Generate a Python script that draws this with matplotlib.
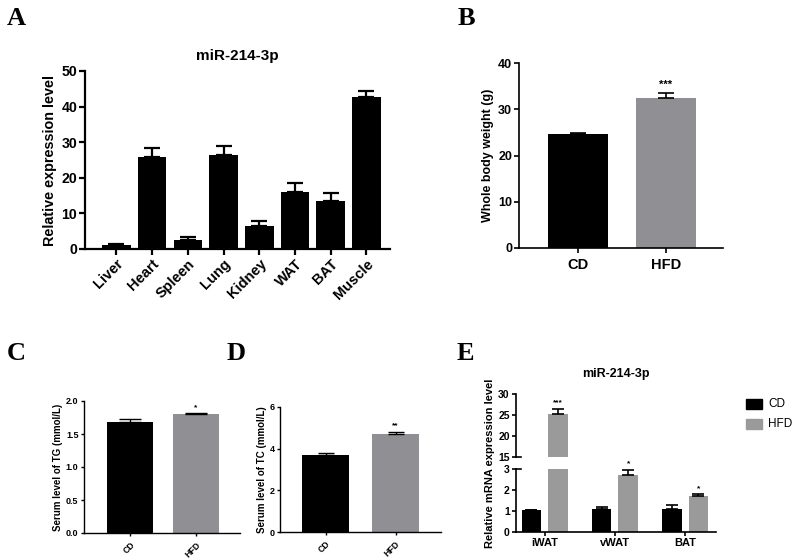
import matplotlib
matplotlib.use("Agg")
import matplotlib.pyplot as plt
import numpy as np
from matplotlib.patches import Rectangle

plt.rcParams['font.family'] = ['Liberation Sans', 'DejaVu Sans']

# ---------------- data ----------------
tissues_a = ["Liver", "Heart", "Spleen", "Lung", "Kidney", "WAT", "BAT", "Muscle"]
expr_a = [1.2, 25.9, 2.6, 26.4, 6.6, 16.0, 13.5, 42.6]
err_a = [0.15, 2.6, 0.8, 2.5, 1.3, 2.6, 2.2, 1.8]

groups = ["CD", "HFD"]
weight_b = [24.6, 32.4]
weight_err_b = [0.35, 1.1]
sig_b = "***"

tg_c = [1.68, 1.80]
tg_err_c = [0.05, 0.02]
sig_c = "*"

tc_d = [3.68, 4.69]
tc_err_d = [0.13, 0.13]
sig_d = "**"

tissues_e = ["iWAT", "vWAT", "BAT"]
cd_e = [1.05, 1.08, 1.10]
cd_err_e = [0.02, 0.13, 0.19]
hfd_e = [25.3, 2.70, 1.73]
hfd_err_e = [1.2, 0.27, 0.07]
sig_e = ["***", "*", "*"]

W, H = 799, 560
fig = plt.figure(figsize=(W / 100, H / 100), dpi=100)
fig.patch.set_facecolor('white')

GREY = '#8f8f94'
GREY_E = '#9a9a9a'


def ax_px(l, t, r, b):
    return fig.add_axes([l / W, 1 - b / H, (r - l) / W, (b - t) / H])


def prism(ax, lw, tl, fs):
    for s in ['top', 'right']:
        ax.spines[s].set_visible(False)
    for s in ['left', 'bottom']:
        ax.spines[s].set_linewidth(lw)
    ax.tick_params(width=lw, length=tl, labelsize=fs, direction='out', pad=1.5)
    for lab in ax.get_yticklabels() + ax.get_xticklabels():
        lab.set_fontweight('bold')


def upper_err(ax, x, y, e, cap, lw):
    ax.errorbar(x, y, yerr=[np.zeros(len(e)), e], fmt='none', ecolor='black',
                capsize=cap, elinewidth=lw, capthick=lw, zorder=3)


# ---------------- Panel A ----------------
axA = ax_px(85, 71, 390, 249)
xa = np.arange(len(tissues_a))
axA.bar(xa, expr_a, width=0.8, color='black', zorder=2)
upper_err(axA, xa, expr_a, err_a, 6, 1.6)
axA.set_xlim(-0.88, 7.66)
axA.set_ylim(0, 50)
axA.set_yticks([0, 10, 20, 30, 40, 50])
axA.set_xticks(xa)
axA.set_xticklabels(tissues_a, rotation=45, ha='right', rotation_mode='anchor')
prism(axA, 1.6, 4, 10.2)
axA.tick_params(axis='x', labelsize=10.5)
axA.set_ylabel("Relative expression level", fontsize=10.4, fontweight='bold', labelpad=3)
axA.set_title("miR-214-3p", fontsize=11, fontweight='bold', pad=8)

# ---------------- Panel B ----------------
axB = ax_px(519, 63, 723, 248)
xb = np.arange(2)
axB.bar(xb, weight_b, width=0.68, color=['black', GREY], zorder=2)
upper_err(axB, xb, weight_b, weight_err_b, 6, 1.2)
axB.set_xlim(-0.67, 1.65)
axB.set_ylim(0, 40)
axB.set_yticks([0, 10, 20, 30, 40])
axB.set_xticks(xb)
axB.set_xticklabels(groups)
prism(axB, 1.2, 3.5, 9)
axB.tick_params(axis='x', labelsize=10.5, length=3.5, pad=4)
axB.set_ylabel("Whole body weight (g)", fontsize=9, fontweight='bold', labelpad=3)
axB.text(1, weight_b[1] + weight_err_b[1] + 0.6, sig_b, ha='center', va='bottom', fontsize=8, fontweight='bold')

# ---------------- Panel C ----------------
axC = ax_px(84, 401, 240, 533)
axC.bar(xb, tg_c, width=0.70, color=['black', GREY], zorder=2)
upper_err(axC, xb, tg_c, tg_err_c, 8, 1.0)
axC.set_xlim(-0.70, 1.67)
axC.set_ylim(0, 2.0)
axC.set_yticks([0.0, 0.5, 1.0, 1.5, 2.0])
axC.set_yticklabels(["0.0", "0.5", "1.0", "1.5", "2.0"])
axC.set_xticks(xb)
axC.set_xticklabels(groups, rotation=45, ha='right', rotation_mode='anchor')
prism(axC, 1.0, 2.5, 6.5)
axC.tick_params(axis='x', labelsize=6.2, pad=2.5)
axC.set_ylabel("Serum level of TG (mmol/L)", fontsize=7, fontweight='bold', labelpad=2)
axC.text(1, tg_c[1] + tg_err_c[1] + 0.03, sig_c, ha='center', va='bottom', fontsize=6, fontweight='bold')

# ---------------- Panel D ----------------
axD = ax_px(280, 407, 441, 532)
axD.bar(xb, tc_d, width=0.67, color=['black', GREY], zorder=2)
upper_err(axD, xb, tc_d, tc_err_d, 5.5, 1.0)
axD.set_xlim(-0.65, 1.65)
axD.set_ylim(0, 6)
axD.set_yticks([0, 2, 4, 6])
axD.set_xticks(xb)
axD.set_xticklabels(groups, rotation=45, ha='right', rotation_mode='anchor')
prism(axD, 1.0, 2.5, 6.5)
axD.tick_params(axis='x', labelsize=6.2, pad=2.5)
axD.set_ylabel("Serum level of TC (mmol/L)", fontsize=7, fontweight='bold', labelpad=2)
axD.text(1, tc_d[1] + tc_err_d[1] + 0.1, sig_d, ha='center', va='bottom', fontsize=6, fontweight='bold')

# ---------------- Panel E ----------------
axEt = ax_px(516, 394, 716, 457)
axEb = ax_px(516, 469, 716, 532)
xe = np.arange(len(tissues_e))
off, bw = 0.19, 0.28
for ax in (axEt, axEb):
    ax.bar(xe - off, cd_e, width=bw, color='black', zorder=2)
    ax.bar(xe + off, hfd_e, width=bw, color=GREY_E, zorder=2)
    upper_err(ax, xe - off, cd_e, cd_err_e, 4, 1.2)
    upper_err(ax, xe + off, hfd_e, hfd_err_e, 4, 1.2)
    ax.set_xlim(-0.41, 2.44)
axEt.set_ylim(15, 30)
axEt.set_yticks([15, 20, 25, 30])
axEb.set_ylim(0, 3)
axEb.set_yticks([0, 1, 2, 3])
axEb.set_xticks(xe)
axEb.set_xticklabels(tissues_e)
prism(axEt, 1.2, 3, 7.5)
prism(axEb, 1.2, 3, 7.5)
axEt.spines['bottom'].set_visible(False)
axEt.set_xticks([])
axEb.tick_params(axis='x', labelsize=8, length=3, pad=1.5)
for ax, yy in ((axEt, 0), (axEb, 1)):
    ax.plot([0, 0.025], [yy, yy], transform=ax.transAxes, color='black', lw=1.2, clip_on=False)
for i, s in enumerate(sig_e):
    top = hfd_e[i] + hfd_err_e[i]
    if top > 15:
        axEt.text(xe[i] + off, top + 0.5, s, ha='center', va='bottom', fontsize=6, fontweight='bold')
    else:
        axEb.text(xe[i] + off, top + 0.1, s, ha='center', va='bottom', fontsize=6, fontweight='bold')
axEt.set_title("miR-214-3p", fontsize=9, fontweight='bold', pad=12)
fig.text(490 / W, 1 - 463 / H, "Relative mRNA expression level", rotation=90,
         ha='center', va='center', fontsize=8, fontweight='bold')

# legend
for label, col, yc in (("CD", 'black', 404), ("HFD", GREY_E, 424)):
    fig.patches.append(Rectangle((746 / W, 1 - (yc + 5) / H), 16 / W, 10 / H,
                                 transform=fig.transFigure, color=col, figure=fig))
    fig.text(768 / W, 1 - yc / H, label, ha='left', va='center', fontsize=8.5)

# ---------------- panel letters ----------------
for letter, x, y in (("A", 7, 25), ("B", 458, 25), ("C", 7, 360), ("D", 227, 360), ("E", 457, 360)):
    fig.text(x / W, 1 - y / H, letter, ha='left', va='baseline', fontsize=19,
             fontweight='bold', family=['Liberation Serif', 'DejaVu Serif'])

fig.savefig("out.png", dpi=100)
